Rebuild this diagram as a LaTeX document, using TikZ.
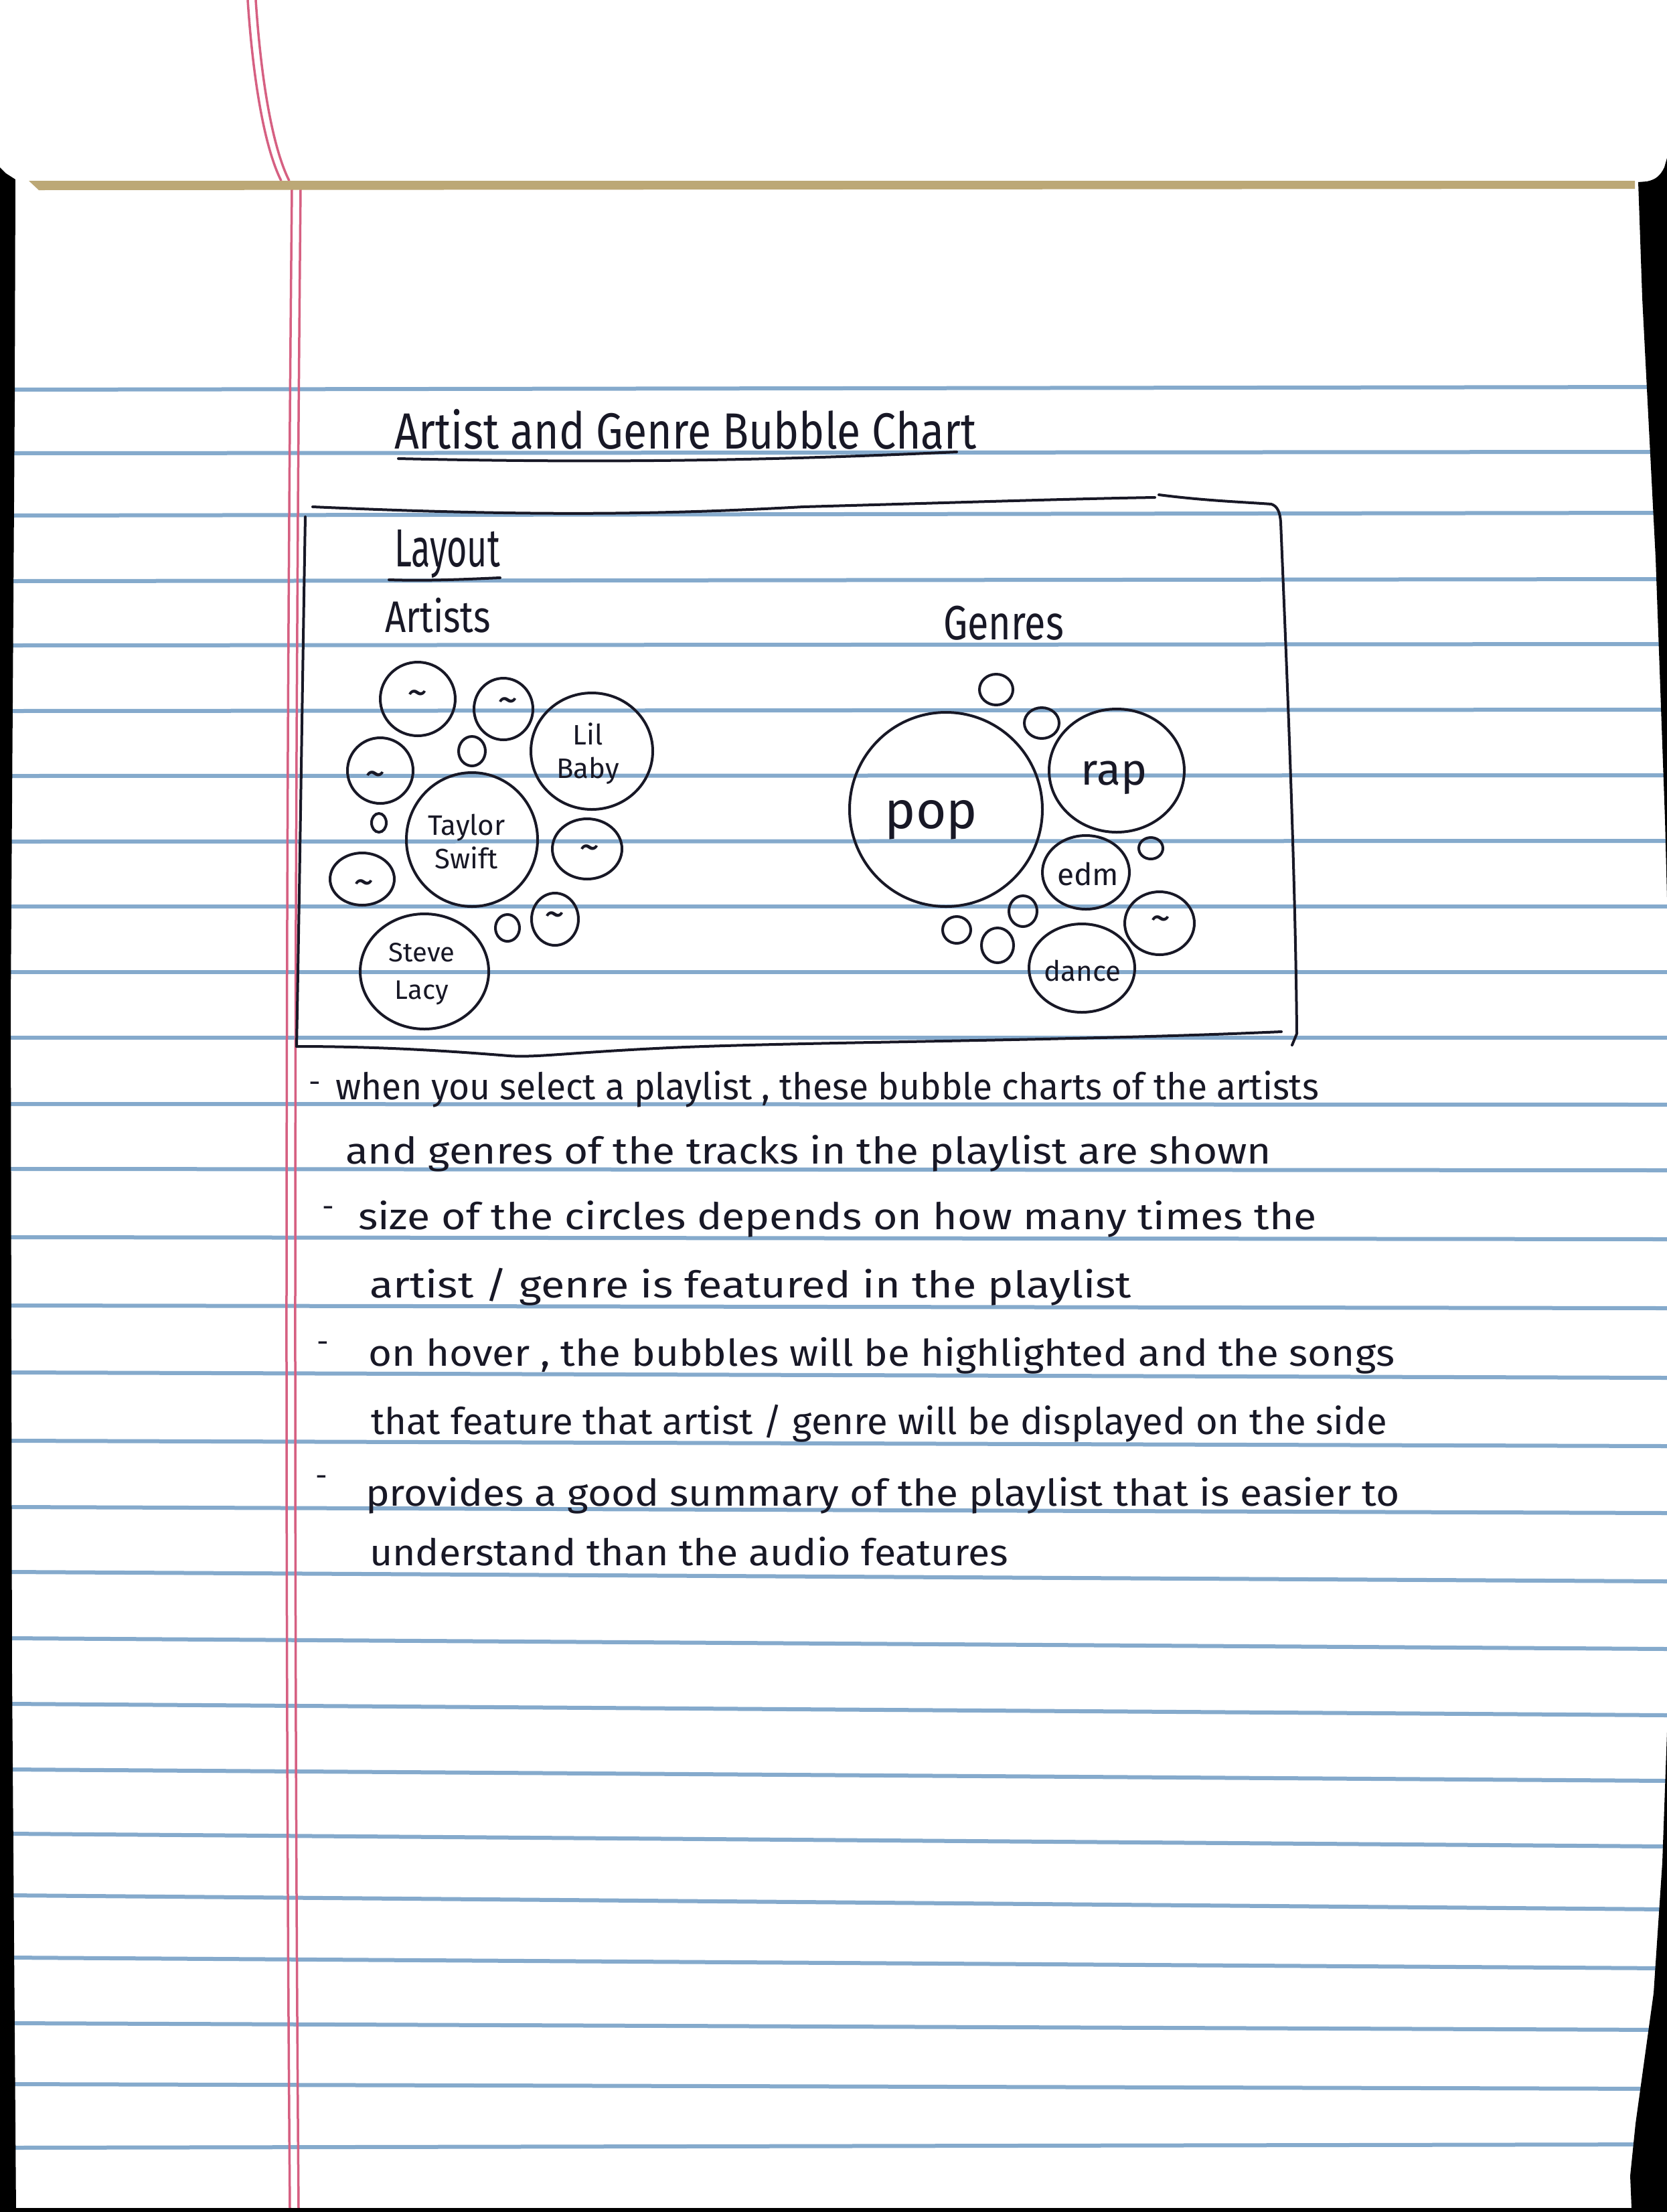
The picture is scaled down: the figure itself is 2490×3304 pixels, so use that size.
\documentclass[tikz,border=0pt]{standalone}
\usepackage{fontspec}
\setmainfont{Fira Sans}
\usepackage{graphicx}
\usetikzlibrary{shapes.geometric}

\definecolor{ink}{RGB}{24,24,38}
\definecolor{rule}{RGB}{133,170,204}
\definecolor{margin}{RGB}{214,96,130}
\definecolor{band}{RGB}{188,168,118}

% squeeze a line of writing to a given width, keeping its height
\newcommand{\fitw}[2]{\resizebox{#1}{\height}{#2}}
\newcommand{\fs}[1]{\fontsize{#1}{1.2\dimexpr#1\relax}\selectfont}

\begin{document}
\begin{tikzpicture}[x=1pt,y=-1pt,
  hand/.style={text=ink, inner sep=0pt, outer sep=0pt},
  lbl/.style={text=ink, inner sep=0pt, align=center},
  bub/.style 2 args={ellipse, draw=ink, line width=4pt, inner sep=0pt,
    minimum width={#1*2pt}, minimum height={#2*2pt}},
  ruleline/.style={draw=rule, line width=6pt},
  redline/.style={draw=margin, line width=3.5pt},
  pen/.style={draw=ink, line width=4pt, line cap=round, line join=round},
]
\useasboundingbox (0,0) rectangle (2490,3304);
\fill[white] (0,0) rectangle (2490,3304);

% ---- ruled lines of the pad
\foreach \yl/\yr in {582/578, 677/675, 770/766, 868/865, 964/962, 1062/1060,
  1159/1158, 1257/1256, 1354/1354, 1452/1452, 1550/1550, 1649/1650,
  1746/1748, 1848/1851, 1950/1954, 2050/2058, 2152/2160, 2251/2260,
  2348/2362, 2447/2463, 2545/2562, 2643/2660, 2739/2758, 2831/2852,
  2924/2940, 3022/3032, 3113/3120, 3208/3203}
  \draw[ruleline] (15,\yl) -- (2490,\yr);

% ---- red margin (double line)
\draw[redline] (370,0) .. controls (378,120) and (395,220) .. (420,270);
\draw[redline] (382,0) .. controls (390,120) and (407,220) .. (432,270);
\draw[redline] (436,283) .. controls (427,1200) and (425,2300) .. (433,3298);
\draw[redline] (449,283) .. controls (440,1200) and (438,2300) .. (446,3298);

% ---- binding strip and dark surroundings
\fill[band] (43,270) -- (2442,270) -- (2442,282) -- (58,284) -- cycle;
\fill[black] (0,250) -- (9,259) -- (23,268) -- (22,600) -- (16,1500)
  -- (18,2500) -- (24,3304) -- (0,3304) -- cycle;
\fill[black] (2490,236) -- (2486,250) .. controls (2480,262) and (2474,268) .. (2460,271)
  -- (2447,272) -- (2453,445) -- (2463,640) -- (2473,834) -- (2480,1029)
  -- (2487,1224) -- (2490,1341) -- cycle;
\fill[black] (2490,2587) -- (2483,2782) -- (2470,2977) -- (2443,3172)
  -- (2435,3250) -- (2437,3298) -- (2490,3298) -- cycle;
\fill[black] (0,3298) rectangle (2490,3304);

% ---- heading
\node[hand, anchor=base west, font=\fs{76pt}] (title) at (589,670)
  {\fitw{870pt}{Artist and Genre Bubble Chart}};
\draw[pen] (595,685) .. controls (900,692) and (1150,688) .. (1429,675);

% ---- frame of the layout sketch
\draw[pen] (443,1563) .. controls (448,1300) and (452,1000) .. (456,772);
\draw[pen] (467,757) .. controls (800,772) and (1000,768) .. (1200,757)
  .. controls (1450,750) and (1600,745) .. (1725,743);
\draw[pen] (1731,739) .. controls (1800,748) and (1860,750) .. (1899,753)
  .. controls (1908,756) and (1912,765) .. (1913,780)
  .. controls (1922,1000) and (1935,1300) .. (1937,1544) -- (1930,1561);
\draw[pen] (1914,1541) .. controls (1600,1555) and (1200,1556) .. (1000,1565)
  .. controls (850,1572) and (800,1580) .. (760,1577)
  .. controls (650,1568) and (550,1563) .. (443,1563);

\node[hand, anchor=base west, font=\fs{80pt}] (layout) at (589,846) {\fitw{158pt}{Layout}};
\draw[pen] (581,866) .. controls (640,868) and (700,865) .. (747,863);
\node[hand, anchor=base west, font=\fs{66pt}] (artists) at (575,944) {\fitw{158pt}{Artists}};
\node[hand, anchor=base west, font=\fs{72pt}] (genres) at (1409,955) {\fitw{180pt}{Genres}};

% ---- artist bubbles
\node[bub={56}{55}] (a1) at (624,1044) {};
\node[bub={44}{46}] (a2) at (752,1059) {};
\node[bub={91}{87}] (lil) at (884,1122) {};
\node[bub={20}{22}] (a4) at (705,1122) {};
\node[bub={49}{49}] (a5) at (568,1151) {};
\node[bub={11}{14}] (a6) at (566,1229) {};
\node[bub={98}{100}] (taylor) at (705,1254) {};
\node[bub={52}{45}] (a8) at (877,1268) {};
\node[bub={48}{39}] (a9) at (541,1313) {};
\node[bub={96}{86}] (steve) at (634,1451) {};
\node[bub={18}{20}] (a11) at (758,1386) {};
\node[bub={35}{39}] (a12) at (829,1373) {};

\node[lbl, font=\fontsize{42pt}{50pt}\selectfont] (lilt) at (878,1126) {Lil\\Baby};
\node[lbl, font=\fontsize{42pt}{50pt}\selectfont] (taylort) at (697,1257) {Taylor\\Swift};
\node[lbl, font=\fontsize{40pt}{56pt}\selectfont] (stevet) at (630,1455) {Steve\\Lacy};

\foreach \nm/\px/\py in {ta1/624/1043, ta2/759/1054, ta5/561/1164,
  ta8/881/1274, ta9/544/1326, ta12/829/1374, tg7/1734/1380}
  \node[lbl, font=\fs{62pt}] (\nm) at (\px,\py) {\textasciitilde};

% ---- genre bubbles
\node[bub={25}{23}] (g1) at (1488,1030) {};
\node[bub={26}{23}] (g2) at (1556,1080) {};
\node[bub={144}{145}] (pop) at (1413,1209) {};
\node[bub={101}{92}] (rap) at (1668,1151) {};
\node[bub={65}{55}] (edm) at (1622,1303) {};
\node[bub={18}{16}] (g6) at (1719,1267) {};
\node[bub={52}{47}] (g7) at (1732,1379) {};
\node[bub={79}{66}] (dance) at (1616,1446) {};
\node[bub={21}{23}] (g9) at (1528,1361) {};
\node[bub={21}{20}] (g10) at (1429,1389) {};
\node[bub={24}{26}] (g11) at (1490,1412) {};

\node[lbl, anchor=base, font=\fs{78pt}] (popt) at (1391,1237) {pop};
\node[lbl, anchor=base, font=\fs{66pt}] (rapt) at (1664,1172) {rap};
\node[lbl, anchor=base, font=\fs{46pt}] (edmt) at (1625,1322) {edm};
\node[lbl, anchor=base, font=\fs{42pt}] (dancet) at (1617,1465) {dance};

% ---- notes below the sketch
\foreach \nm/\px/\py in {d1/470/1624, d3/490/1810, d5/482/2012, d7/480/2212}
  \node[hand, font=\fs{44pt}] (\nm) at (\px,\py) {-};

\node[hand, anchor=base west, font=\fs{55pt}] (l1) at (501,1642)
  {\fitw{1469pt}{when you select a playlist , these bubble charts of the artists}};
\node[hand, anchor=base west, font=\fs{55pt}] (l2) at (516,1738)
  {\fitw{1383pt}{and genres of the tracks in the playlist are shown}};
\node[hand, anchor=base west, font=\fs{55pt}] (l3) at (535,1836)
  {\fitw{1432pt}{size of the circles depends on how many times the}};
\node[hand, anchor=base west, font=\fs{55pt}] (l4) at (552,1938)
  {\fitw{1138pt}{artist / genre is featured in the playlist}};
\node[hand, anchor=base west, font=\fs{55pt}] (l5) at (550,2040)
  {\fitw{1533pt}{on hover , the bubbles will be highlighted and the songs}};
\node[hand, anchor=base west, font=\fs{55pt}] (l6) at (554,2142)
  {\fitw{1518pt}{that feature that artist / genre will be displayed on the side}};
\node[hand, anchor=base west, font=\fs{55pt}] (l7) at (546,2249)
  {\fitw{1545pt}{provides a good summary of the playlist that is easier to}};
\node[hand, anchor=base west, font=\fs{55pt}] (l8) at (552,2338)
  {\fitw{954pt}{understand than the audio features}};
\end{tikzpicture}
\end{document}
